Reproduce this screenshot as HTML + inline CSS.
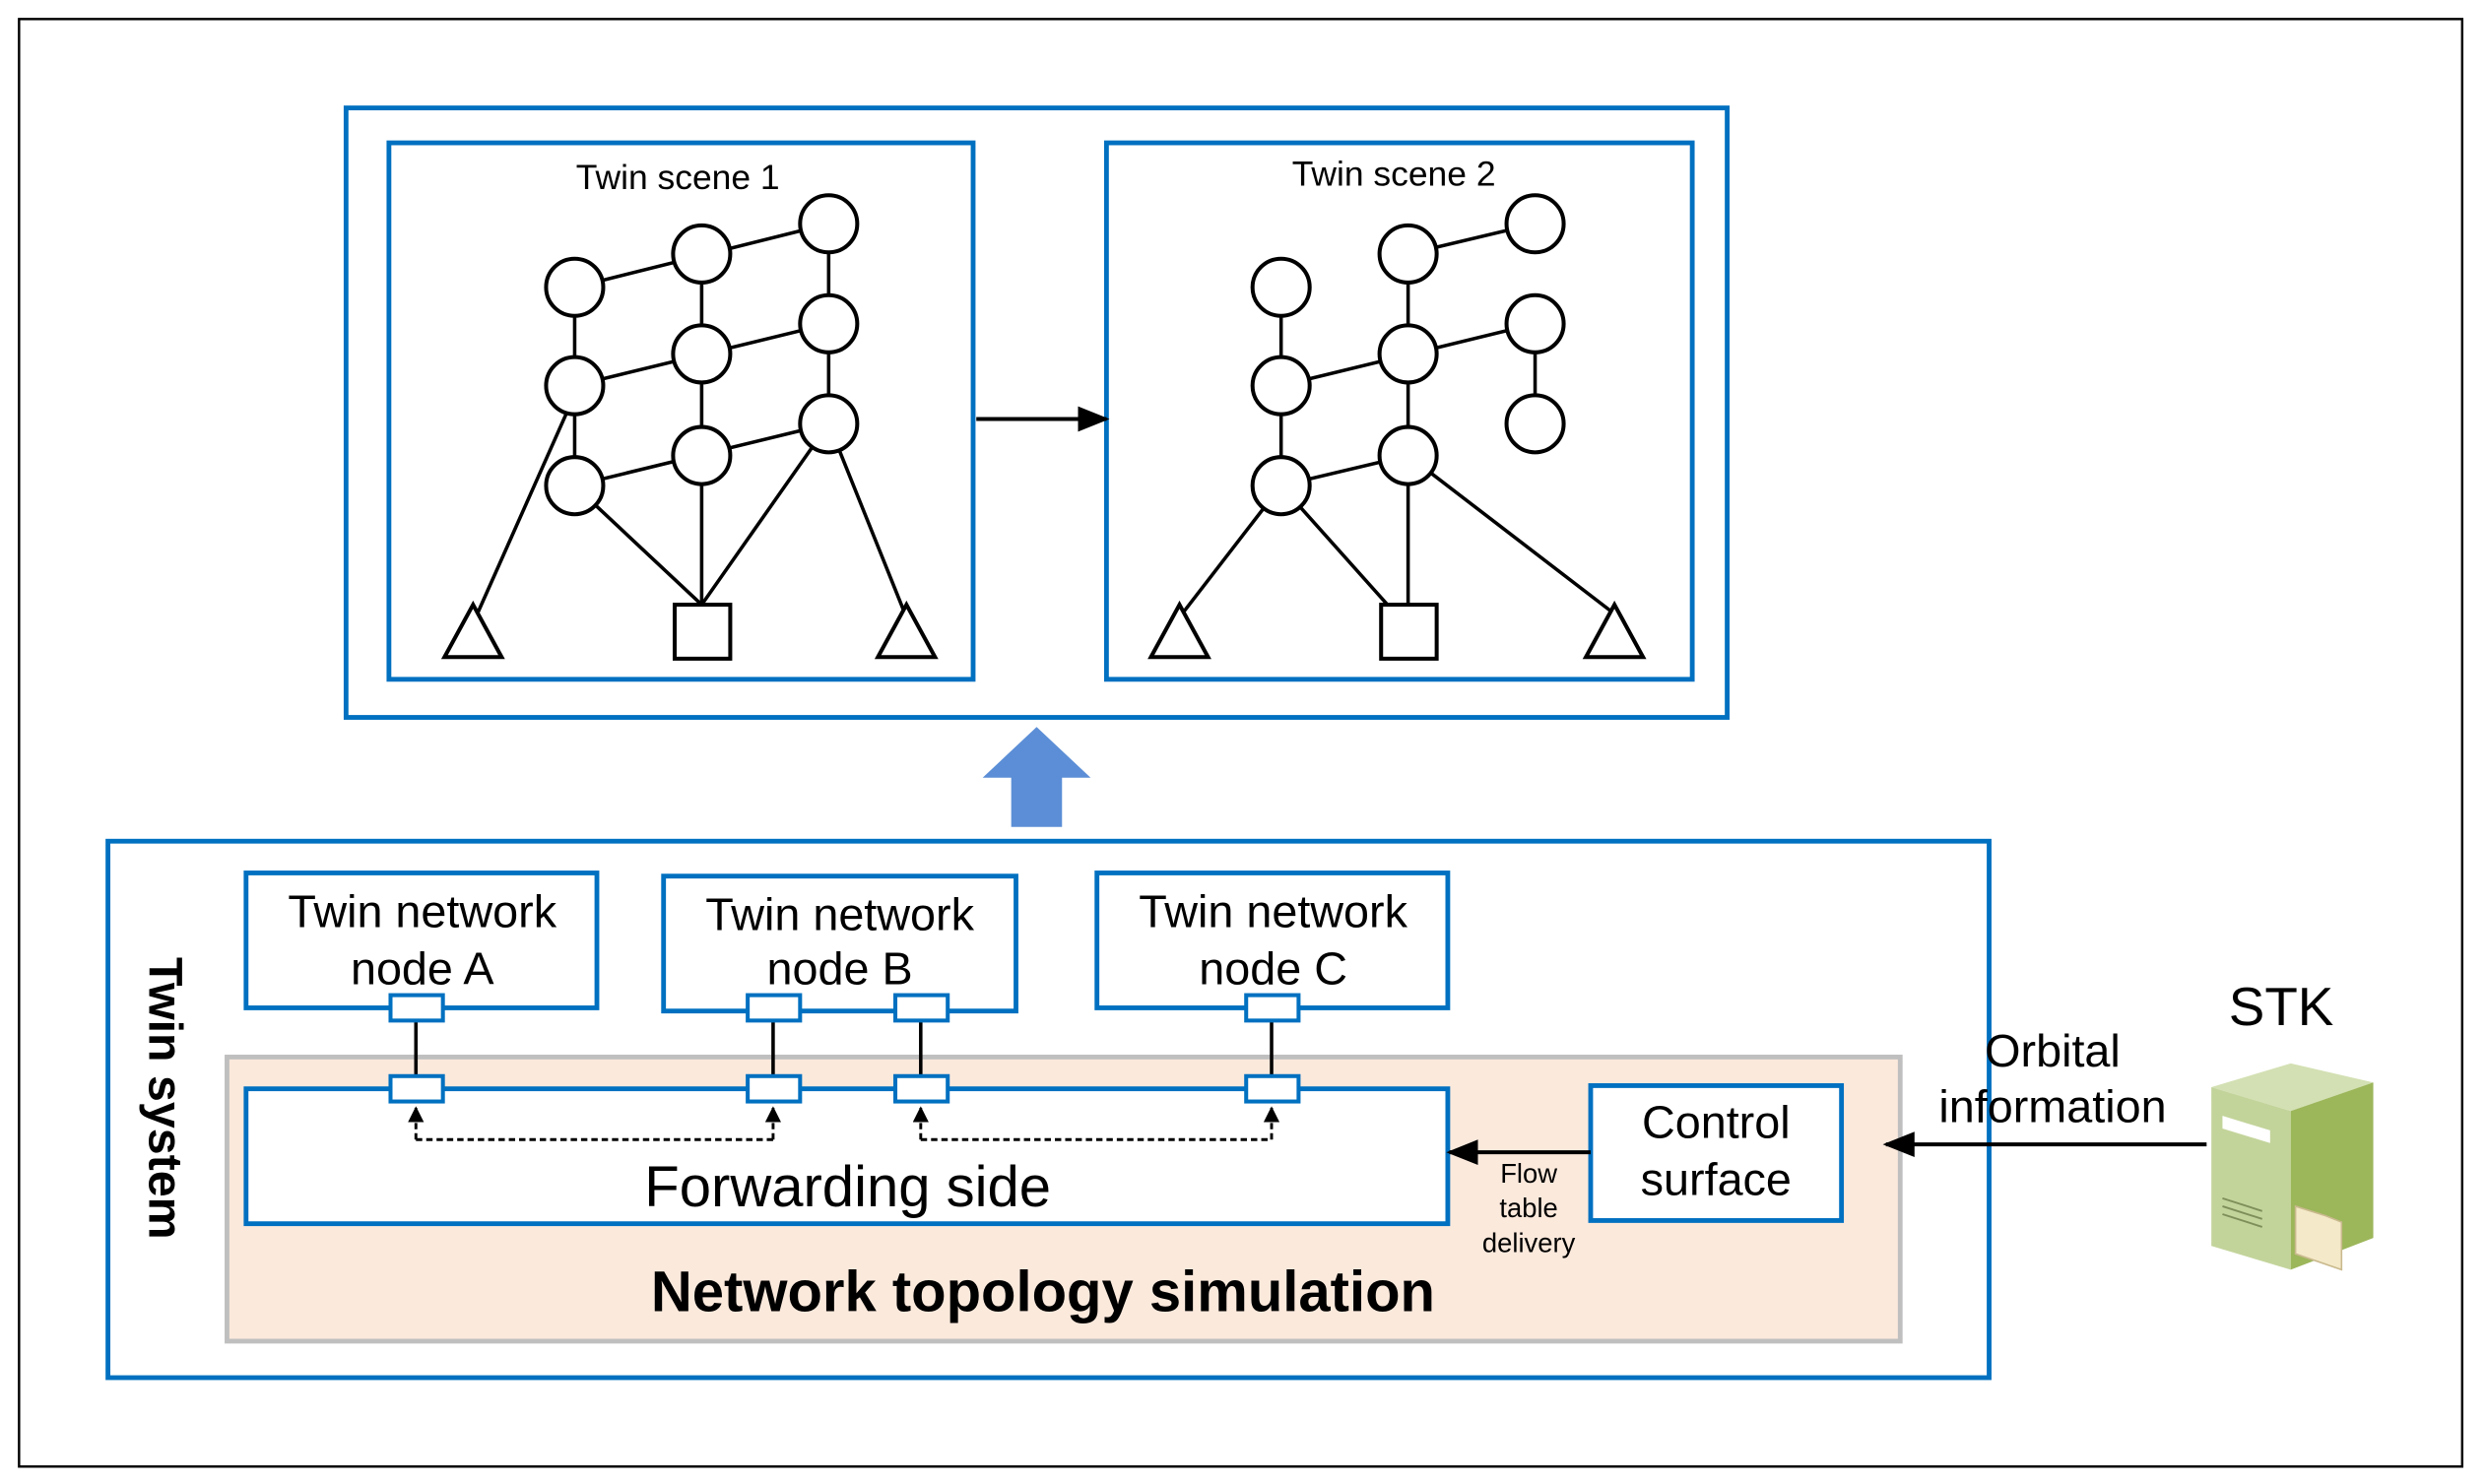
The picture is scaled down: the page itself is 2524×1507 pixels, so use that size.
<!DOCTYPE html>
<html><head><meta charset="utf-8"><style>html,body{margin:0;padding:0;background:#fff}svg{display:block}</style></head>
<body>
<svg width="2524" height="1507" viewBox="0 0 1566 935" preserveAspectRatio="none" xmlns="http://www.w3.org/2000/svg" font-family="'Liberation Sans', 'DejaVu Sans', sans-serif">
<defs>
<marker id="ah" markerWidth="10" markerHeight="10" refX="9" refY="5" orient="auto" markerUnits="userSpaceOnUse" viewBox="0 0 10 10"><path d="M0,0 L10,5 L0,10 z" fill="#000"/></marker>
<marker id="ah2" markerWidth="20" markerHeight="20" refX="18" refY="10" orient="auto" markerUnits="userSpaceOnUse" viewBox="0 0 20 20"><path d="M0,2 L20,10 L0,18 z" fill="#000"/></marker>
</defs>
<rect x="12" y="12" width="1539" height="912" fill="none" stroke="#000" stroke-width="1.5"/>
<rect x="218" y="68" width="870" height="384" fill="none" stroke="#0070C0" stroke-width="3"/>
<rect x="245" y="90" width="368" height="338" fill="none" stroke="#0070C0" stroke-width="3"/>
<rect x="697" y="90" width="369" height="338" fill="none" stroke="#0070C0" stroke-width="3"/>
<text x="427" y="119" font-size="22" text-anchor="middle">Twin scene 1</text>
<text x="878" y="117" font-size="22" text-anchor="middle">Twin scene 2</text>
<line x1="615" y1="264" x2="697" y2="264" stroke="#000" stroke-width="2.5" marker-end="url(#ah2)"/>
<g stroke="#000" stroke-width="2.2" fill="none">
<line x1="362" y1="181" x2="522" y2="141"/><line x1="362" y1="243" x2="522" y2="204"/><line x1="362" y1="306" x2="522" y2="267"/>
<line x1="362" y1="181" x2="362" y2="306"/><line x1="442" y1="160" x2="442" y2="287"/><line x1="522" y1="141" x2="522" y2="267"/>
<line x1="357" y1="260" x2="301" y2="386"/><line x1="362" y1="306" x2="442" y2="381"/><line x1="442" y1="287" x2="442" y2="381"/><line x1="522" y1="267" x2="442" y2="381"/><line x1="522" y1="267" x2="569" y2="384"/>
<line x1="887" y1="160" x2="967" y2="141"/><line x1="807" y1="243" x2="967" y2="204"/><line x1="807" y1="306" x2="887" y2="287"/>
<line x1="807" y1="181" x2="807" y2="306"/><line x1="887" y1="160" x2="887" y2="381"/><line x1="967" y1="204" x2="967" y2="267"/>
<line x1="807" y1="306" x2="746" y2="385"/><line x1="807" y1="306" x2="874" y2="381"/><line x1="887" y1="287" x2="1016" y2="386"/>
</g>
<g stroke="#000" stroke-width="2.5" fill="#fff">
<circle cx="362" cy="181" r="18"/><circle cx="442" cy="160" r="18"/><circle cx="522" cy="141" r="18"/>
<circle cx="362" cy="243" r="18"/><circle cx="442" cy="223" r="18"/><circle cx="522" cy="204" r="18"/>
<circle cx="362" cy="306" r="18"/><circle cx="442" cy="287" r="18"/><circle cx="522" cy="267" r="18"/>
<circle cx="807" cy="181" r="18"/><circle cx="887" cy="160" r="18"/><circle cx="967" cy="141" r="18"/>
<circle cx="807" cy="243" r="18"/><circle cx="887" cy="223" r="18"/><circle cx="967" cy="204" r="18"/>
<circle cx="807" cy="306" r="18"/><circle cx="887" cy="287" r="18"/><circle cx="967" cy="267" r="18"/>
<path d="M298,381 L316,414 L280,414 z"/><rect x="425" y="381" width="35" height="34"/><path d="M571,381 L589,414 L553,414 z"/>
<path d="M743,381 L761,414 L725,414 z"/><rect x="870" y="381" width="35" height="34"/><path d="M1017,381 L1035,414 L999,414 z"/>
</g>
<path d="M653,458 L687,490 L669,490 L669,521 L637,521 L637,490 L619,490 z" fill="#5B8ED6"/>
<rect x="68" y="530" width="1185" height="338" fill="none" stroke="#0070C0" stroke-width="3"/>
<text transform="translate(94,692) rotate(90)" font-size="30" font-weight="bold" text-anchor="middle">Twin system</text>
<rect x="143" y="666" width="1054" height="179" fill="#FBE9DC" stroke="#BFBFBF" stroke-width="3"/>
<g fill="#fff" stroke="#0070C0" stroke-width="3">
<rect x="155" y="550" width="221" height="85"/><rect x="418" y="552" width="222" height="85"/><rect x="691" y="550" width="221" height="85"/>
<rect x="155" y="686" width="757" height="85"/><rect x="1002" y="684" width="158" height="85"/>
</g>
<g font-size="29" text-anchor="middle">
<text x="266" y="584">Twin network</text><text x="266" y="620">node A</text>
<text x="529" y="586">Twin network</text><text x="529" y="620">node B</text>
<text x="802" y="584">Twin network</text><text x="802" y="620">node C</text>
<text x="1081" y="717">Control</text><text x="1081" y="753">surface</text>
<text x="534" y="760" font-size="36">Forwarding side</text>
<text x="1437" y="646" font-size="34">STK</text>
<text x="1293" y="672">Orbital</text><text x="1293" y="707">information</text>
</g>
<text x="657" y="826" font-size="36" font-weight="bold" text-anchor="middle">Network topology simulation</text>
<g font-size="17" text-anchor="middle"><text x="963" y="745">Flow</text><text x="963" y="767">table</text><text x="963" y="789">delivery</text></g>
<g stroke="#000" stroke-width="2.2">
<line x1="262" y1="643" x2="262" y2="678"/><line x1="487" y1="643" x2="487" y2="678"/><line x1="580" y1="643" x2="580" y2="678"/><line x1="801" y1="643" x2="801" y2="678"/>
</g>
<g fill="#fff" stroke="#0070C0" stroke-width="2.5">
<rect x="246" y="627" width="33" height="16"/><rect x="471" y="627" width="33" height="16"/><rect x="564" y="627" width="33" height="16"/><rect x="785" y="627" width="33" height="16"/>
<rect x="246" y="678" width="33" height="16"/><rect x="471" y="678" width="33" height="16"/><rect x="564" y="678" width="33" height="16"/><rect x="785" y="678" width="33" height="16"/>
</g>
<g stroke="#000" stroke-width="1.8" stroke-dasharray="4,2.5" fill="none">
<path d="M262,718 L487,718"/><path d="M580,718 L801,718"/>
<line x1="262" y1="718" x2="262" y2="698" marker-end="url(#ah)"/><line x1="487" y1="718" x2="487" y2="698" marker-end="url(#ah)"/>
<line x1="580" y1="718" x2="580" y2="698" marker-end="url(#ah)"/><line x1="801" y1="718" x2="801" y2="698" marker-end="url(#ah)"/>
</g>
<line x1="1002" y1="726" x2="913" y2="726" stroke="#000" stroke-width="2.5" marker-end="url(#ah2)"/>
<line x1="1390" y1="721" x2="1188" y2="721" stroke="#000" stroke-width="2.5" marker-end="url(#ah2)"/>
<path d="M1393,685 L1443,670 L1495,682 L1443,700 z" fill="#d3e0b3"/>
<path d="M1393,685 L1443,700 L1443,800 L1393,785 z" fill="#c3d49b"/>
<path d="M1443,700 L1495,682 L1495,780 L1443,800 z" fill="#9cb65a"/>
<rect x="1400" y="705" width="30" height="8" fill="#fff" transform="skewY(17) translate(0,-430)"/>
<path d="M1446,760 L1465,766 L1475,770 L1475,800 L1446,790 z" fill="#f4e9c8" stroke="#c9b98e" stroke-width="1"/>
<g stroke="#7f8f5a" stroke-width="1.2"><line x1="1400" y1="755" x2="1425" y2="763"/><line x1="1400" y1="760" x2="1425" y2="768"/><line x1="1400" y1="765" x2="1425" y2="773"/></g>
</svg>
</body></html>
